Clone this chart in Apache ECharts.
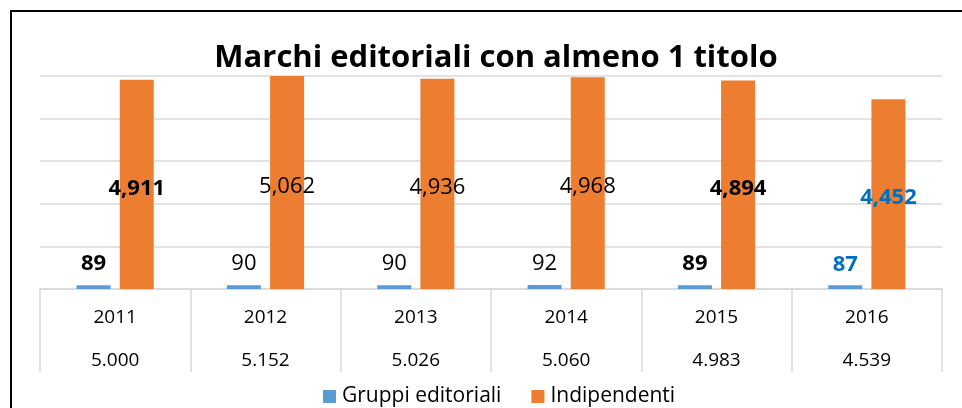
<!DOCTYPE html>
<html>
<head>
<meta charset="utf-8">
<script src="https://cdn.jsdelivr.net/npm/echarts@6/dist/echarts.min.js"></script>
<style>
  html, body { margin: 0; padding: 0; background: #fff; }
  .frame { position: absolute; left: 10px; top: 10px; width: 1000px; height: 500px; border: 2px solid #000; }
  #chart { position: absolute; left: 0; top: 0; width: 962px; height: 408px; }
</style>
</head>
<body>
<div class="frame"></div>
<div id="chart"></div>
<script>
// anni e valori
var categories = ['2011', '2012', '2013', '2014', '2015', '2016']
var gruppi = [89, 90, 90, 92, 89, 87]
var indipendenti = [4911, 5062, 4936, 4968, 4894, 4452]
var totali = [5000, 5152, 5026, 5060, 4983, 4539]

// stile delle etichette per anno
var labelWeight = ['bold', 'normal', 'normal', 'normal', 'bold', 'bold']
var labelColor = ['#000', '#000', '#000', '#000', '#000', '#0070c0']

var FONT = '"Open Sans", sans-serif'

function sep (n, ch) {
  return String(n).replace(/\B(?=(\d{3})+(?!\d))/g, ch)
}

function withLabels (values, ch) {
  return values.map(function (v, i) {
    return {
      value: v,
      label: {
        fontWeight: labelWeight[i],
        color: labelColor[i],
        formatter: sep(v, ch)
      }
    }
  })
}

var chart = echarts.init(document.getElementById('chart'))
var option = {
  backgroundColor: 'transparent',
  animation: false,
  title: {
    text: 'Marchi editoriali con almeno 1 titolo',
    left: 491,
    textAlign: 'center',
    top: 38,
    textStyle: {
      fontFamily: FONT,
      fontSize: 31,
      fontWeight: 'bold',
      color: '#000'
    }
  },
  legend: {
    top: 381,
    left: 318,
    itemWidth: 13,
    itemHeight: 13,
    itemGap: 30,
    icon: 'rect',
    textStyle: {
      fontFamily: FONT,
      fontSize: 21,
      color: '#000',
      padding: [0, 0, 0, 1]
    },
    data: ['Gruppi editoriali', 'Indipendenti']
  },
  grid: {
    left: 40,
    right: 20,
    top: 76,
    bottom: 119
  },
  xAxis: {
    type: 'category',
    data: categories,
    axisLine: { lineStyle: { color: '#d9d9d9', width: 1.5 } },
    axisTick: {
      show: true,
      interval: 0,
      length: 83,
      lineStyle: { color: '#d9d9d9', width: 1.5 }
    },
    axisLabel: {
      interval: 0,
      margin: 7,
      formatter: function (value, idx) {
        return '{y|' + value + '}\n{t|' + sep(totali[idx], '.') + '}'
      },
      rich: {
        y: { fontFamily: FONT, fontSize: 19, color: '#000', lineHeight: 43 },
        t: { fontFamily: FONT, fontSize: 19, color: '#000', lineHeight: 43 }
      }
    }
  },
  yAxis: {
    type: 'value',
    min: 0,
    max: 5000,
    interval: 1000,
    axisLabel: { show: false },
    axisLine: { show: false },
    axisTick: { show: false },
    splitLine: { lineStyle: { color: '#d9d9d9', width: 1.5 } }
  },
  series: [
    {
      name: 'Gruppi editoriali',
      type: 'bar',
      barWidth: 34,
      barGap: '27%',
      itemStyle: { color: '#5b9bd5' },
      label: {
        show: true,
        position: 'top',
        distance: 10,
        fontFamily: FONT,
        fontSize: 22
      },
      data: withLabels(gruppi, ',')
    },
    {
      name: 'Indipendenti',
      type: 'bar',
      barWidth: 34,
      clip: true,
      itemStyle: { color: '#ed7d31' },
      label: {
        show: true,
        position: 'inside',
        offset: [0, 4],
        fontFamily: FONT,
        fontSize: 22
      },
      data: withLabels(indipendenti, ',')
    }
  ]
}
chart.setOption(option)
</script>
</body>
</html>
